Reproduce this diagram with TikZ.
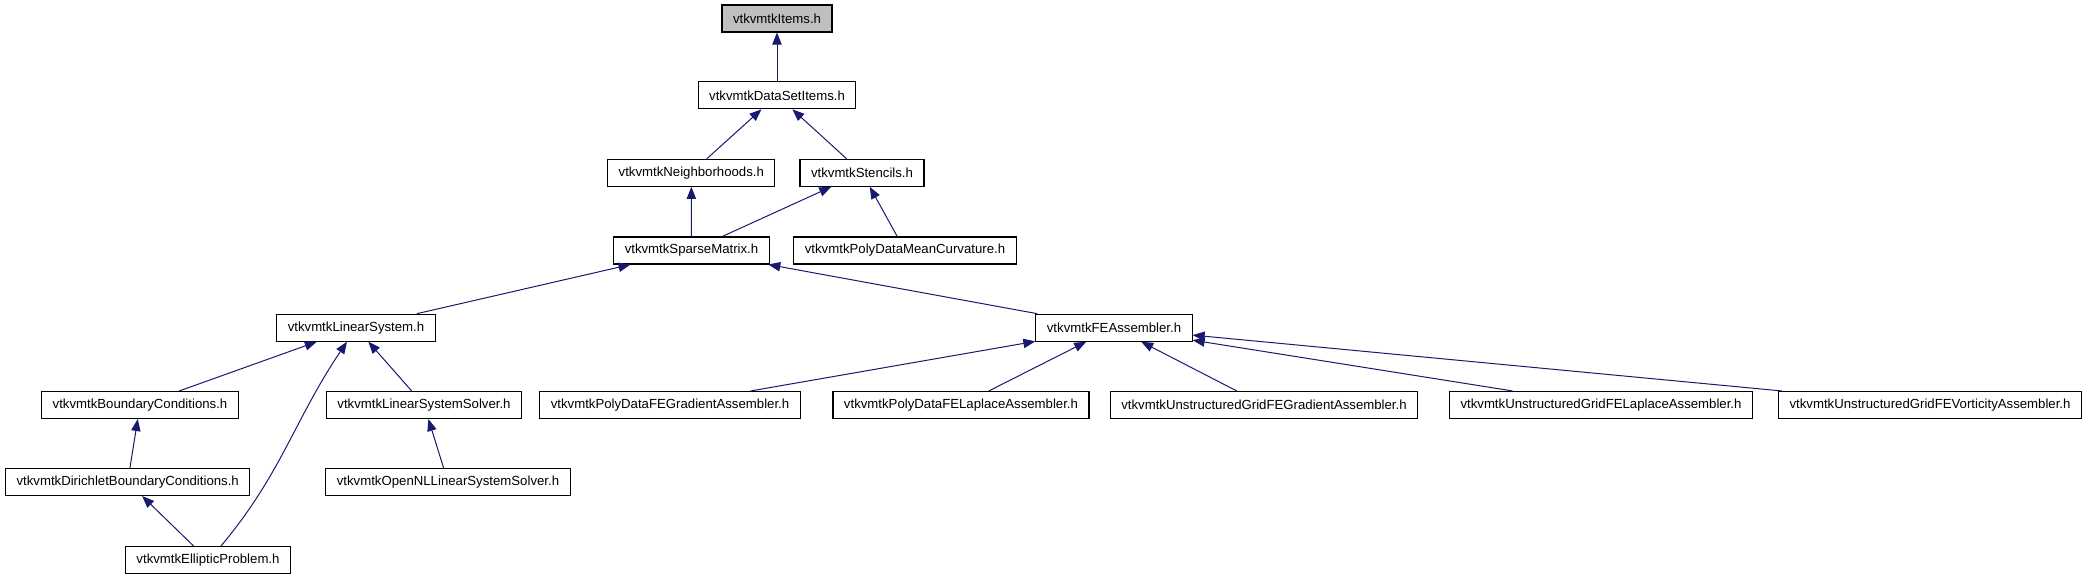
\documentclass[tikz,border=0pt]{standalone}
\usepackage{fontspec}
\setmainfont{Liberation Sans}
\usetikzlibrary{arrows.meta,calc}
\definecolor{edgeblue}{HTML}{191970}
\definecolor{rootgray}{HTML}{BFBFBF}

\begin{document}
\begin{tikzpicture}[x=0.75pt, y=0.75pt]
    \tikzstyle{hdr} = [rectangle, draw=black, fill=white, line width=0.8pt, inner xsep=8.25pt, inner ysep=0pt, minimum height=20.25pt, font=\fontsize{9.9}{12}\selectfont]
    \tikzstyle{inc} = [line width=0.75pt, draw=edgeblue, {Triangle[length=9pt, width=7pt, fill=edgeblue]}-]

    \useasboundingbox (0,0) rectangle (2088,-581);

    \node [hdr, fill=rootgray] (items) at (777,-18.5) {vtkvmtkItems.h};
    \node [hdr] (dsitems) at (777,-95.3) {vtkvmtkDataSetItems.h};
    \node [hdr] (neigh) at (691.3,-172.8) {vtkvmtkNeighborhoods.h};
    \node [hdr] (stencils) at (862,-172.8) {vtkvmtkStencils.h};
    \node [hdr] (sparse) at (691.5,-250.5) {vtkvmtkSparseMatrix.h};
    \node [hdr] (meancurv) at (905,-250.5) {vtkvmtkPolyDataMeanCurvature.h};
    \node [hdr] (linsys) at (356,-327.7) {vtkvmtkLinearSystem.h};
    \node [hdr] (feasm) at (1114,-327.7) {vtkvmtkFEAssembler.h};
    \node [hdr] (bc) at (140,-405) {vtkvmtkBoundaryConditions.h};
    \node [hdr] (lss) at (424,-405) {vtkvmtkLinearSystemSolver.h};
    \node [hdr] (pdfegrad) at (670,-405) {vtkvmtkPolyDataFEGradientAssembler.h};
    \node [hdr] (pdfelap) at (961,-405) {vtkvmtkPolyDataFELaplaceAssembler.h};
    \node [hdr] (ugfegrad) at (1264,-405) {vtkvmtkUnstructuredGridFEGradientAssembler.h};
    \node [hdr] (ugfelap) at (1601,-405) {vtkvmtkUnstructuredGridFELaplaceAssembler.h};
    \node [hdr] (ugfevort) at (1930,-405) {vtkvmtkUnstructuredGridFEVorticityAssembler.h};
    \node [hdr] (dirbc) at (127.7,-482) {vtkvmtkDirichletBoundaryConditions.h};
    \node [hdr] (opennl) at (448,-482) {vtkvmtkOpenNLLinearSystemSolver.h};
    \node [hdr] (elliptic) at (208,-560) {vtkvmtkEllipticProblem.h};

    \draw [inc] (items) -- (dsitems);
    \draw [inc] (dsitems) -- (neigh);
    \draw [inc] (dsitems) -- (stencils);
    \draw [inc] (neigh) -- (sparse);
    \draw [inc] (stencils) -- (sparse);
    \draw [inc] (stencils) -- (meancurv);
    \draw [inc] (sparse) -- (linsys);
    \draw [inc] (sparse) -- (feasm);
    \draw [inc] (linsys) -- (bc);
    \draw [inc] (linsys) -- (lss);
    \draw [inc] ($(linsys.south)+(-9,0)$) to[out=-124, in=50] ($(elliptic.north)+(13,0)$);
    \draw [inc] (bc) -- (dirbc);
    \draw [inc] (dirbc) -- (elliptic);
    \draw [inc] (lss) -- (opennl);
    \draw [inc] (feasm) -- (pdfegrad);
    \draw [inc] (feasm) -- (pdfelap);
    \draw [inc] (feasm) -- (ugfegrad);
    \draw [inc] (feasm) -- (ugfelap);
    \draw [inc] (feasm) -- (ugfevort);
\end{tikzpicture}
\end{document}
